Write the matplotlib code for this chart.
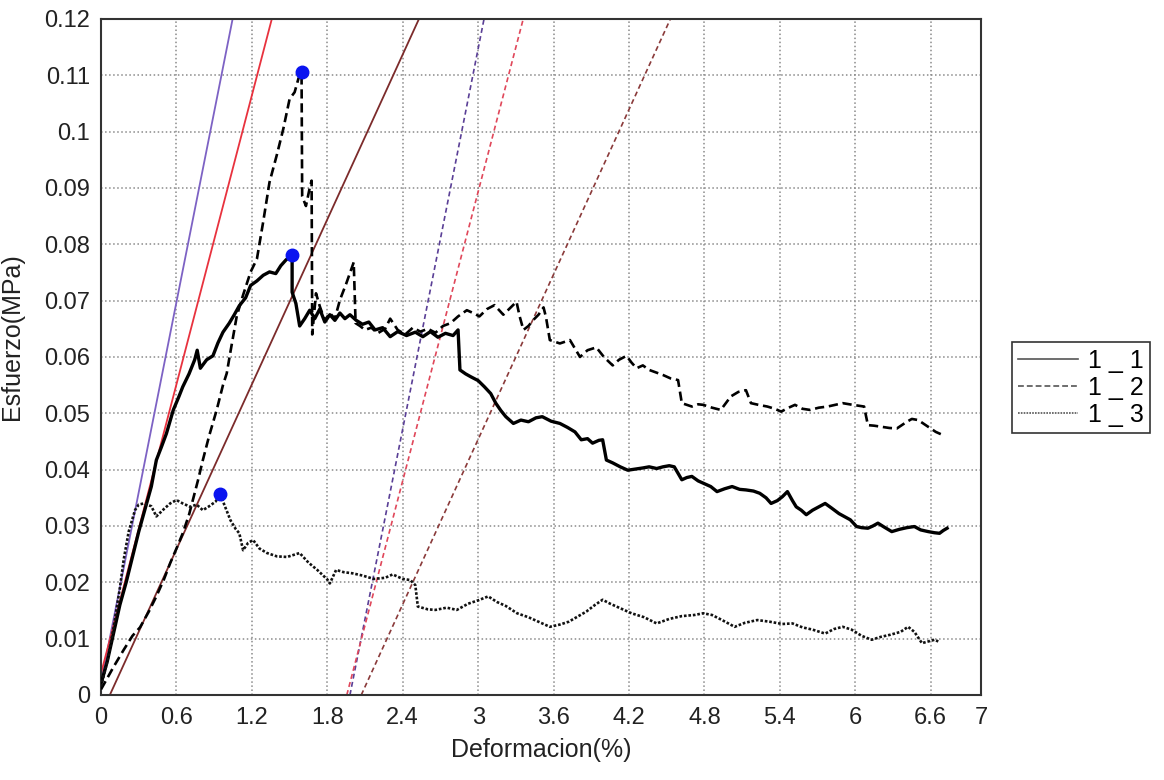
import numpy as np
import matplotlib
matplotlib.use("Agg")
import matplotlib.pyplot as plt

plt.rcParams['font.family'] = ['Liberation Sans', 'DejaVu Sans']

# Specimen 1_1 (solid)
strain_1_1 = [0.00, 0.05, 0.10, 0.15, 0.20, 0.25, 0.30, 0.35, 0.40, 0.44,
              0.48, 0.52, 0.575, 0.62, 0.65, 0.70, 0.745, 0.765, 0.79, 0.84,
              0.89, 0.93, 0.97, 1.02, 1.06, 1.10, 1.15, 1.19, 1.24, 1.29,
              1.34, 1.39, 1.43, 1.47, 1.50, 1.52, 1.52, 1.55, 1.58, 1.62,
              1.66, 1.70, 1.74, 1.78, 1.82, 1.86, 1.90, 1.94, 1.98, 2.03,
              2.08, 2.13, 2.18, 2.24, 2.30, 2.36, 2.43, 2.50, 2.56, 2.62,
              2.68, 2.74, 2.80, 2.84, 2.855, 2.90, 2.94, 3.00, 3.05, 3.10,
              3.14, 3.18, 3.22, 3.28, 3.34, 3.40, 3.46, 3.51, 3.58, 3.65,
              3.71, 3.77, 3.82, 3.87, 3.91, 3.96, 3.99, 4.02, 4.07, 4.13,
              4.19, 4.25, 4.31, 4.36, 4.42, 4.47, 4.52, 4.56, 4.62, 4.66,
              4.70, 4.75, 4.79, 4.85, 4.90, 4.96, 5.02, 5.08, 5.13, 5.19,
              5.24, 5.29, 5.33, 5.38, 5.42, 5.46, 5.50, 5.53, 5.57, 5.61,
              5.66, 5.71, 5.76, 5.81, 5.87, 5.92, 5.96, 6.01, 6.05, 6.10,
              6.14, 6.18, 6.23, 6.29, 6.35, 6.41, 6.47, 6.52, 6.58, 6.63,
              6.67, 6.70, 6.73]
stress_1_1 = [0.0020, 0.0060, 0.0110, 0.0160, 0.0200, 0.0245, 0.0290, 0.0330, 0.0370, 0.0417,
              0.0440, 0.0464, 0.0506, 0.0530, 0.0547, 0.0570, 0.0595, 0.0612, 0.0580, 0.0595,
              0.0602, 0.0625, 0.0644, 0.0660, 0.0675, 0.0691, 0.0705, 0.0727, 0.0735, 0.0745,
              0.0751, 0.0748, 0.0762, 0.0772, 0.0778, 0.0781, 0.0715, 0.0695, 0.0655, 0.0668,
              0.0683, 0.0668, 0.0685, 0.0662, 0.0675, 0.0665, 0.0678, 0.0668, 0.0675, 0.0665,
              0.0658, 0.0662, 0.0648, 0.0652, 0.0636, 0.0645, 0.0638, 0.0644, 0.0636, 0.0645,
              0.0635, 0.0642, 0.0638, 0.0648, 0.0577, 0.0570, 0.0565, 0.0558, 0.0547, 0.0535,
              0.0518, 0.0505, 0.0494, 0.0482, 0.0488, 0.0485, 0.0492, 0.0494, 0.0486, 0.0482,
              0.0475, 0.0467, 0.0453, 0.0455, 0.0447, 0.0452, 0.0453, 0.0417, 0.0412, 0.0405,
              0.0399, 0.0401, 0.0403, 0.0405, 0.0402, 0.0405, 0.0407, 0.0405, 0.0382, 0.0386,
              0.0388, 0.0380, 0.0376, 0.0370, 0.0361, 0.0366, 0.0370, 0.0365, 0.0364, 0.0362,
              0.0358, 0.0350, 0.0340, 0.0345, 0.0352, 0.0361, 0.0345, 0.0334, 0.0328, 0.0320,
              0.0328, 0.0334, 0.0340, 0.0332, 0.0322, 0.0316, 0.0311, 0.0299, 0.0297, 0.0296,
              0.0300, 0.0305, 0.0298, 0.0290, 0.0294, 0.0297, 0.0299, 0.0293, 0.0290, 0.0288,
              0.0287, 0.0292, 0.0296]

# Specimen 1_2 (dashed)
strain_1_2 = [0.00, 0.05, 0.10, 0.18, 0.25, 0.31, 0.38, 0.44, 0.50, 0.55,
              0.60, 0.65, 0.70, 0.73, 0.77, 0.81, 0.86, 0.92, 0.97, 1.00,
              1.03, 1.08, 1.13, 1.19, 1.24, 1.29, 1.34, 1.40, 1.45, 1.50,
              1.54, 1.57, 1.595, 1.60, 1.63, 1.66, 1.675, 1.68, 1.71, 1.74,
              1.78, 1.82, 1.86, 1.90, 1.95, 1.98, 2.01, 2.025, 2.06, 2.10,
              2.15, 2.20, 2.26, 2.30, 2.36, 2.42, 2.48, 2.54, 2.60, 2.66,
              2.72, 2.78, 2.84, 2.91, 2.96, 3.01, 3.07, 3.13, 3.20, 3.26,
              3.305, 3.33, 3.36, 3.40, 3.44, 3.48, 3.52, 3.54, 3.57, 3.65,
              3.73, 3.81, 3.87, 3.94, 4.00, 4.07, 4.12, 4.18, 4.22, 4.26,
              4.31, 4.36, 4.42, 4.47, 4.53, 4.59, 4.62, 4.66, 4.70, 4.75,
              4.79, 4.86, 4.93, 4.97, 5.01, 5.07, 5.13, 5.17, 5.23, 5.30,
              5.36, 5.41, 5.47, 5.52, 5.58, 5.64, 5.71, 5.78, 5.84, 5.90,
              5.98, 6.07, 6.10, 6.15, 6.21, 6.27, 6.33, 6.41, 6.45, 6.50,
              6.54, 6.58, 6.64, 6.68]
stress_1_2 = [0.0010, 0.0030, 0.0050, 0.0080, 0.0105, 0.0120, 0.0148, 0.0175, 0.0205, 0.0234,
              0.0260, 0.0287, 0.0320, 0.0346, 0.0380, 0.0417, 0.0460, 0.0506, 0.0550, 0.0571,
              0.0610, 0.0673, 0.0710, 0.0751, 0.0774, 0.0840, 0.0910, 0.0960, 0.1005, 0.1058,
              0.1070, 0.1094, 0.1105, 0.0885, 0.0868, 0.0900, 0.0913, 0.0640, 0.0713, 0.0690,
              0.0665, 0.0678, 0.0668, 0.0701, 0.0730, 0.0749, 0.0768, 0.0660, 0.0655, 0.0648,
              0.0652, 0.0642, 0.0650, 0.0668, 0.0648, 0.0640, 0.0652, 0.0645, 0.0650, 0.0643,
              0.0655, 0.0660, 0.0672, 0.0683, 0.0678, 0.0672, 0.0685, 0.0692, 0.0675, 0.0688,
              0.0698, 0.0672, 0.0648, 0.0655, 0.0666, 0.0675, 0.0688, 0.0670, 0.0630, 0.0624,
              0.0630, 0.0600, 0.0612, 0.0617, 0.0600, 0.0585, 0.0595, 0.0602, 0.0590, 0.0580,
              0.0585, 0.0577, 0.0572, 0.0568, 0.0562, 0.0559, 0.0518, 0.0515, 0.0512, 0.0516,
              0.0515, 0.0510, 0.0506, 0.0518, 0.0530, 0.0538, 0.0541, 0.0518, 0.0515, 0.0512,
              0.0508, 0.0503, 0.0510, 0.0515, 0.0508, 0.0506, 0.0510, 0.0512, 0.0515, 0.0518,
              0.0515, 0.0512, 0.0479, 0.0478, 0.0476, 0.0474, 0.0473, 0.0485, 0.0490, 0.0488,
              0.0482, 0.0476, 0.0467, 0.0463]

# Specimen 1_3 (dotted)
strain_1_3 = [0.00, 0.05, 0.10, 0.15, 0.18, 0.22, 0.27, 0.30, 0.34, 0.40,
              0.44, 0.50, 0.55, 0.60, 0.65, 0.71, 0.76, 0.81, 0.86, 0.91,
              0.95, 0.98, 1.03, 1.07, 1.10, 1.13, 1.17, 1.21, 1.26, 1.32,
              1.40, 1.48, 1.58, 1.65, 1.72, 1.80, 1.82, 1.87, 1.93, 2.00,
              2.08, 2.17, 2.26, 2.32, 2.40, 2.46, 2.50, 2.52, 2.60, 2.66,
              2.75, 2.83, 2.92, 3.00, 3.08, 3.15, 3.22, 3.31, 3.40, 3.50,
              3.57, 3.65, 3.72, 3.79, 3.86, 3.93, 3.99, 4.05, 4.12, 4.22,
              4.32, 4.42, 4.52, 4.62, 4.72, 4.79, 4.86, 4.94, 5.04, 5.12,
              5.22, 5.32, 5.42, 5.50, 5.58, 5.66, 5.76, 5.83, 5.90, 5.97,
              6.05, 6.13, 6.20, 6.28, 6.36, 6.42, 6.47, 6.53, 6.58, 6.63,
              6.66]
stress_1_3 = [0.0015, 0.0060, 0.0120, 0.0190, 0.0240, 0.0290, 0.0328, 0.0338, 0.0340, 0.0335,
              0.0317, 0.0330, 0.0340, 0.0346, 0.0340, 0.0334, 0.0338, 0.0328, 0.0335, 0.0343,
              0.0356, 0.0338, 0.0310, 0.0295, 0.0287, 0.0257, 0.0270, 0.0275, 0.0260, 0.0252,
              0.0246, 0.0245, 0.0252, 0.0235, 0.0222, 0.0205, 0.0198, 0.0222, 0.0218, 0.0216,
              0.0212, 0.0206, 0.0208, 0.0214, 0.0206, 0.0204, 0.0195, 0.0157, 0.0152, 0.0151,
              0.0155, 0.0151, 0.0162, 0.0168, 0.0175, 0.0165, 0.0158, 0.0145, 0.0138, 0.0128,
              0.0121, 0.0125, 0.0130, 0.0139, 0.0148, 0.0160, 0.0169, 0.0162, 0.0155, 0.0145,
              0.0138, 0.0127, 0.0135, 0.0140, 0.0142, 0.0145, 0.0142, 0.0133, 0.0121, 0.0128,
              0.0133, 0.0130, 0.0126, 0.0127, 0.0120, 0.0116, 0.0109, 0.0117, 0.0121, 0.0116,
              0.0105, 0.0098, 0.0103, 0.0107, 0.0112, 0.0121, 0.0112, 0.0092, 0.0095, 0.0098,
              0.0095]

series_labels = ['1 _ 1', '1 _ 2', '1 _ 3']

# Elastic-modulus lines (x-intercept in %, slope in MPa per %) and the offset copies
modulus_x0 = [-0.02, -0.045, 0.07]
modulus_slope = [0.1125, 0.0855, 0.0488]
offset_strain = 2.0

x_ticks = [0, 0.6, 1.2, 1.8, 2.4, 3, 3.6, 4.2, 4.8, 5.4, 6, 6.6, 7]
x_tick_labels = ['0', '0.6', '1.2', '1.8', '2.4', '3', '3.6', '4.2', '4.8', '5.4', '6', '6.6', '7']
y_ticks = [0, 0.01, 0.02, 0.03, 0.04, 0.05, 0.06, 0.07, 0.08, 0.09, 0.1, 0.11, 0.12]
y_tick_labels = ['0', '0.01', '0.02', '0.03', '0.04', '0.05', '0.06', '0.07', '0.08',
                 '0.09', '0.1', '0.11', '0.12']

fig = plt.figure(figsize=(11.64, 7.8), dpi=100)
ax = fig.add_axes([0.0868, 0.109, 0.756, 0.8667])

ax.set_xlim(0, 7)
ax.set_ylim(0, 0.12)

# modulus lines (solid) and offset lines (dashed)
solid_colors = ['#7d62c4', '#e8323e', '#7c2b2b']
dashed_colors = ['#5a3f96', '#e0475a', '#8a3a3a']
y_line = np.array([0.0, 0.12])
for x0, k, c1, c2 in zip(modulus_x0, modulus_slope, solid_colors, dashed_colors):
    xs = x0 + y_line / k
    ax.plot(xs, y_line, color=c1, lw=1.3, zorder=2)
    ax.plot(xs + offset_strain, y_line, color=c2, lw=1.2, dashes=(3, 2), zorder=2)

ax.plot(strain_1_1, stress_1_1, color='black', lw=2.4, zorder=3, label=series_labels[0])
ax.plot(strain_1_2, stress_1_2, color='black', lw=1.9, dashes=(3.5, 1.8), zorder=3,
        label=series_labels[1])
ax.plot(strain_1_3, stress_1_3, color='#111111', lw=1.9, dashes=(1.0, 0.7), zorder=3,
        label=series_labels[2])

# peak stress of each specimen
for sx, sy in [(strain_1_1, stress_1_1), (strain_1_2, stress_1_2), (strain_1_3, stress_1_3)]:
    i = int(np.argmax(sy))
    ax.plot(sx[i], sy[i], 'o', color='#0a14f0', ms=9, mec='#0a14f0', zorder=5)

ax.set_xticks(x_ticks)
ax.set_xticklabels(x_tick_labels)
ax.set_yticks(y_ticks)
ax.set_yticklabels(y_tick_labels)
ax.tick_params(axis='x', length=0, labelsize=17, pad=9, colors='#222222')
ax.tick_params(axis='y', length=0, labelsize=17, pad=8, colors='#222222')
ax.grid(True, color='#8a8a8a', linestyle=':', linewidth=1.1)
for s in ax.spines.values():
    s.set_color('#333333')
    s.set_linewidth(1.5)

ax.set_xlabel('Deformacion(%)', fontsize=18, color='#222222', labelpad=6)
ax.set_ylabel('Esfuerzo(MPa)', fontsize=18, color='#222222')
ax.yaxis.set_label_coords(-0.088, 0.53)

line_handles = [l for l in ax.get_lines() if l.get_label() in series_labels]
leg = fig.legend(line_handles, series_labels, loc='upper left',
                 bbox_to_anchor=(0.869, 0.561), fontsize=18, frameon=True,
                 fancybox=False, framealpha=1, edgecolor='#333333',
                 handlelength=2.4, handletextpad=0.4, labelspacing=0.12,
                 borderpad=0.25, borderaxespad=0)
leg.get_frame().set_linewidth(1.2)
for h in leg.get_lines():
    h.set_color('#555555')
    h.set_linewidth(1.2)

fig.savefig('out.png', dpi=100)
